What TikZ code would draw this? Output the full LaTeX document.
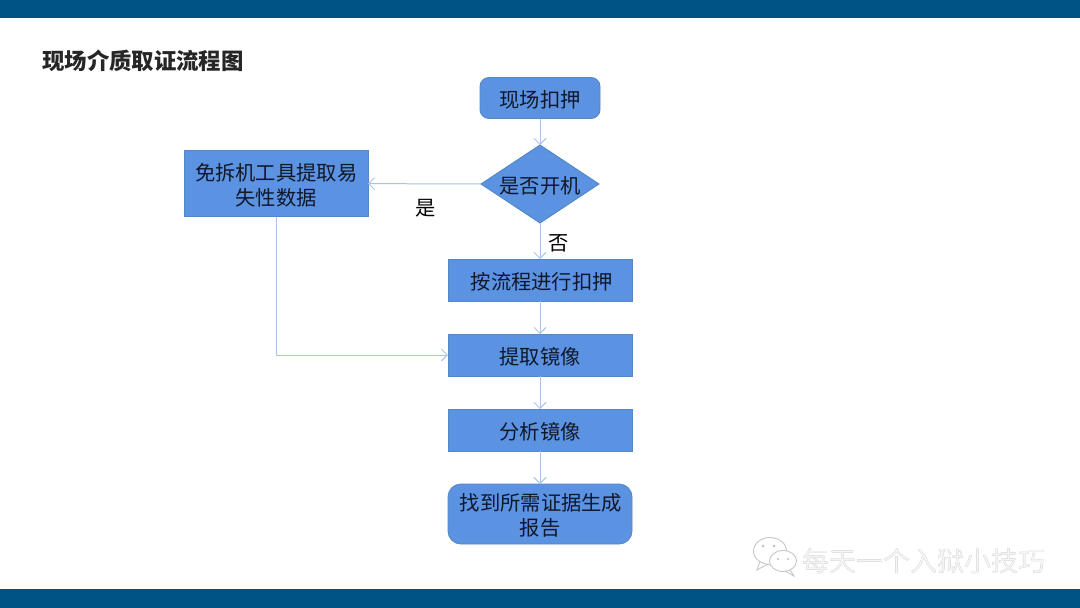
\documentclass[tikz,border=0pt]{standalone}
\usepackage{fontspec}
\setmainfont{Noto Sans CJK SC}
\usetikzlibrary{shapes.geometric,arrows.meta}
\definecolor{band}{HTML}{005385}
\definecolor{boxfill}{HTML}{5B92E2}
\definecolor{boxline}{HTML}{5488C4}
\definecolor{wire}{HTML}{A9C5E6}
\definecolor{inktext}{HTML}{10182A}
\newcommand{\dn}[1]{\raisebox{-1.6pt}[\height][\depth]{#1}}
\tikzset{
  x=1pt,y=-1pt,
  flowbase/.style={fill=boxfill,draw=boxline,line width=0.9pt,text=inktext,inner sep=0pt,outer sep=0pt,align=center,font=\fontsize{20.3}{25.5}\selectfont},
  rectbox/.style={flowbase,minimum width=#1,minimum height=42pt},
  roundbox/.style={flowbase,rounded corners=9pt,minimum width=#1},
  decision/.style={flowbase,diamond,aspect=1.5,minimum width=118pt,minimum height=78pt},
  wirelink/.style={draw=wire,line width=1pt,-{Straight Barb[length=6pt,width=12pt,line width=0.9pt]}},
  caption/.style={font=\fontsize{20.3}{24}\selectfont,text=black,inner sep=0pt},
  mark text/.style={font=\fontsize{27}{30}\selectfont,inner sep=0pt},
  chat/.style={draw=black!22,fill=white,line width=0.9pt}
}
\begin{document}
\begin{tikzpicture}
\useasboundingbox (0,0) rectangle (1080,608);
\fill[white] (0,0) rectangle (1080,608);
\fill[band] (0,0) rectangle (1080,18);
\fill[band] (0,589) rectangle (1080,608);
\node[anchor=west,inner sep=0pt,font=\bfseries\fontsize{22.4}{26}\selectfont,text=black!85] (title) at (42,61) {现场介质取证流程图};
\node[roundbox=120pt,minimum height=41pt] (seize) at (540,98) {\dn{现场扣押}};
\node[decision] (power) at (540,184) {};
\node[flowbase,fill=none,draw=none] (powertext) at (540,184) {\dn{是否开机}};
\node[rectbox=183.5pt,minimum height=66pt] (tool) at (276.25,183.5) {\dn{免拆机工具提取易}\\\dn{失性数据}};
\node[rectbox=184pt] (procedure) at (540,280) {\hspace{3.5pt}\dn{按流程进行扣押}};
\node[rectbox=184pt] (image) at (540,355) {\dn{提取镜像}};
\node[rectbox=184pt] (analyse) at (540,430) {\dn{分析镜像}};
\node[roundbox=184pt,minimum height=60pt,rounded corners=13pt] (report) at (540,514) {\hspace{2pt}\dn{找到所需证据生成}\\\dn{报告}};
\node[caption] (yes) at (425.5,208) {是};
\node[caption] (no) at (558.5,243) {否};
\draw[wirelink] (seize) -- (power);
\draw[wirelink] (power) -- (tool);
\draw[wirelink] (power) -- (procedure);
\draw[wirelink] (procedure) -- (image);
\draw[wirelink] (tool.south) |- (image.west);
\draw[wirelink] (image) -- (analyse);
\draw[wirelink] (analyse) -- (report);
% watermark
\draw[chat] (770,551) ellipse (16.5 and 13.5);
\draw[chat,fill=none] (760,561) -- (757,570) -- (768,564);
\draw[chat] (783,561) ellipse (13.5 and 10.5);
\draw[chat,fill=none] (790,570) -- (794,576) -- (785,571);
\fill[black!25] (763,546) circle (1.5) (774,546) circle (1.5) (778,559) circle (1.2) (788,559) circle (1.2);
\node[mark text,text=black!38] (markshadow) at (924.1,561.6) {每天一个入狱小技巧};
\node[mark text,text=black!4] (mark) at (923.5,561) {每天一个入狱小技巧};
\end{tikzpicture}
\end{document}
